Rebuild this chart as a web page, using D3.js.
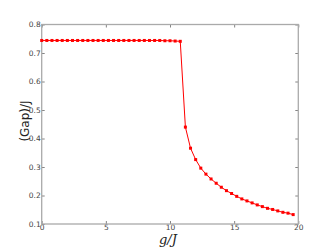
<!DOCTYPE html>
<html lang="en">
<head>
<meta charset="UTF-8">
<title>Gap vs g/J</title>
<style>
  body { margin: 0; background: #fff; }
  svg { display: block; }
  .tick text { font-family: "DejaVu Sans", sans-serif; font-size: 7.5px; fill: #444; }
</style>
</head>
<body>
<svg id="chart" width="332" height="249"></svg>
<script src="https://d3js.org/d3.v7.min.js"></script>
<script>
// g/J sample points, step 0.4
const gValues = d3.range(50).map(i => +(i * 0.4).toFixed(1));
// gap values
const gapValues = [
  0.744, 0.744, 0.744, 0.744, 0.744, 0.744, 0.744, 0.744, 0.744, 0.744,
  0.744, 0.744, 0.744, 0.744, 0.744, 0.744, 0.744, 0.744, 0.744, 0.744,
  0.744, 0.744, 0.744, 0.744, 0.743, 0.743, 0.742, 0.741,
  0.440, 0.366, 0.326, 0.296, 0.275, 0.258, 0.243, 0.229, 0.217, 0.207,
  0.197, 0.188, 0.181, 0.174, 0.167, 0.161, 0.155, 0.151, 0.146, 0.141,
  0.138, 0.133
];
const xTicks = [0, 5, 10, 15, 20];
const yTicks = [0.1, 0.2, 0.3, 0.4, 0.5, 0.6, 0.7, 0.8];

const data = gValues.map((g, i) => ({ g: g, v: gapValues[i] }));

const margin = { left: 41.7, right: 33.7, top: 24.5, bottom: 25 };
const svg = d3.select("#chart");
const W = 332, H = 249;
const x = d3.scaleLinear().domain([0, 20]).range([margin.left, W - margin.right]);
const y = d3.scaleLinear().domain([0.1, 0.8]).range([H - margin.bottom, margin.top]);

const spine = "#aaa";

// inward ticks on all four sides
function styleAxis(g) {
  g.select(".domain").remove();
  g.selectAll(".tick line").attr("stroke", "#666").attr("stroke-width", 0.8);
}
svg.append("g").attr("transform", `translate(0,${y(0.1)})`)
  .call(d3.axisBottom(x).tickValues(xTicks).tickSizeInner(-3).tickPadding(1).tickFormat(d3.format("d")))
  .call(styleAxis);
svg.append("g").attr("transform", `translate(0,${y(0.8)})`)
  .call(d3.axisTop(x).tickValues(xTicks).tickSizeInner(-3).tickFormat(""))
  .call(styleAxis);
svg.append("g").attr("transform", `translate(${x(0)},0)`)
  .call(d3.axisLeft(y).tickValues(yTicks).tickSizeInner(-3).tickPadding(1).tickFormat(d3.format(".1f")))
  .call(styleAxis);
svg.append("g").attr("transform", `translate(${x(20)},0)`)
  .call(d3.axisRight(y).tickValues(yTicks).tickSizeInner(-3).tickFormat(""))
  .call(styleAxis);

// frame
svg.append("rect")
  .attr("x", x(0)).attr("y", y(0.8))
  .attr("width", x(20) - x(0)).attr("height", y(0.1) - y(0.8))
  .attr("fill", "none").attr("stroke", spine).attr("stroke-width", 1.3);

// series
svg.append("path")
  .datum(data)
  .attr("fill", "none")
  .attr("stroke", "#ff0000")
  .attr("stroke-width", 1)
  .attr("d", d3.line().x(d => x(d.g)).y(d => y(d.v)));

svg.selectAll(".pt")
  .data(data)
  .enter().append("rect")
  .attr("class", "pt")
  .attr("x", d => x(d.g) - 1.5)
  .attr("y", d => y(d.v) - 1.5)
  .attr("width", 3).attr("height", 3)
  .attr("fill", "#ff0000");

// labels
svg.append("text")
  .attr("x", 168).attr("y", 244)
  .attr("text-anchor", "middle")
  .style("font-family", "'DejaVu Serif', serif")
  .style("font-style", "italic")
  .style("font-size", "13px")
  .attr("fill", "#222")
  .text("g/J");

svg.append("text")
  .attr("transform", `translate(29,121) rotate(-90)`)
  .attr("text-anchor", "middle")
  .style("font-family", "'DejaVu Sans', sans-serif")
  .style("font-size", "12px")
  .attr("fill", "#222")
  .text("(Gap)/J");
</script>
</body>
</html>
